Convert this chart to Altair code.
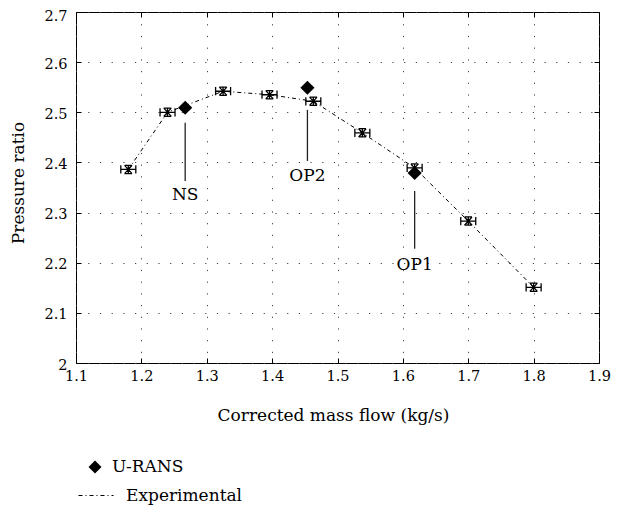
import altair as alt
import pandas as pd

# ---- data ----
exp_x = [1.180, 1.240, 1.325, 1.396, 1.463, 1.538, 1.618, 1.700, 1.800]
exp_y = [2.386, 2.500, 2.542, 2.535, 2.522, 2.459, 2.389, 2.283, 2.151]
urans_x = [1.267, 1.454, 1.618]
urans_y = [2.509, 2.549, 2.379]
ann_labels = ["NS", "OP2", "OP1"]
ann_x = [1.267, 1.454, 1.618]
ann_top = [2.479, 2.505, 2.343]
ann_bottom = [2.363, 2.403, 2.228]
ann_text_y = [2.336, 2.373, 2.196]
x_ticks = [1.1, 1.2, 1.3, 1.4, 1.5, 1.6, 1.7, 1.8, 1.9]
y_ticks = [2.0, 2.1, 2.2, 2.3, 2.4, 2.5, 2.6, 2.7]

exp_df = pd.DataFrame({"x": exp_x, "y": exp_y, "exp": "Experimental"})
urans_df = pd.DataFrame({"x": urans_x, "y": urans_y, "model": "U-RANS"})
ann_df = pd.DataFrame({"x": ann_x, "top": ann_top, "bottom": ann_bottom,
                       "ty": ann_text_y, "label": ann_labels})

FONT = "DejaVu Serif"
X_TITLE = "Corrected mass flow (kg/s)"
Y_TITLE = "Pressure ratio"

xscale = alt.Scale(domain=[1.1, 1.9], nice=False, zero=False)
yscale = alt.Scale(domain=[2.0, 2.7], nice=False, zero=False)

common_axis = dict(
    grid=True, gridColor="#444444", gridDash=[1.2, 10.5], gridWidth=1, gridOpacity=1,
    ticks=True, tickSize=5, tickColor="black", tickWidth=1, offset=-5, domain=False,
    labelFont=FONT, labelFontSize=14.5, labelColor="black", labelFlush=False,
    labelOverlap=False, format="~g",
    titleFont=FONT, titleFontSize=17, titleFontWeight="normal", titleColor="black",
    titleAlign="center", titleBaseline="middle",
)
xaxis = alt.Axis(values=x_ticks, labelPadding=6, titleX=257, titleY=57, **common_axis)
yaxis = alt.Axis(values=y_ticks, labelPadding=9,
                 labelOffset=alt.condition("datum.value >= 2.69", alt.value(4), alt.value(2)),
                 titleX=-62.5, titleY=170.5, titleAngle=270, **common_axis)


def X(field):
    return alt.X(field, type="quantitative", scale=xscale, axis=xaxis, title=X_TITLE)


def Y(field):
    return alt.Y(field, type="quantitative", scale=yscale, axis=yaxis, title=Y_TITLE)


line = alt.Chart(exp_df).mark_line(color="black", strokeWidth=1).encode(
    x=X("x"), y=Y("y"),
    strokeDash=alt.StrokeDash(
        "exp:N",
        scale=alt.Scale(domain=["Experimental"], range=[[4, 3, 1, 3]]),
        legend=alt.Legend(orient="none", legendX=2, legendY=465.5, title=None,
                          padding=0, symbolType="stroke", symbolSize=1225,
                          symbolStrokeColor="black", symbolStrokeWidth=1,
                          labelFont=FONT, labelFontSize=17, labelColor="black",
                          labelOffset=12),
    ),
)

marker_path = ("M-1,-0.55L-1,0.55M1,-0.55L1,0.55M-1,0L1,0"
               "M-0.5,-0.55L0.5,-0.55M-0.5,0.55L0.5,0.55"
               "M-0.5,-0.55L0.5,0.55M0.5,-0.55L-0.5,0.55M0,-0.6L0,0.6")
markers = alt.Chart(exp_df).mark_point(
    shape=marker_path, size=225, filled=False, color="black", strokeWidth=1.3, opacity=1
).encode(x=X("x"), y=Y("y"))

diamonds = alt.Chart(urans_df).mark_point(
    filled=True, size=200, color="black", opacity=1
).encode(
    x=X("x"), y=Y("y"),
    shape=alt.Shape(
        "model:N",
        scale=alt.Scale(domain=["U-RANS"], range=["diamond"]),
        legend=alt.Legend(orient="none", legendX=10.5, legendY=446.5, title=None,
                          padding=0, symbolSize=170, symbolFillColor="black",
                          symbolStrokeColor="black", labelFont=FONT, labelFontSize=17,
                          labelColor="black", labelOffset=8.5),
    ),
)

rules = alt.Chart(ann_df).mark_rule(color="#222222", strokeWidth=1.3).encode(
    x=X("x"), y=Y("top"), y2="bottom"
)

texts = alt.Chart(ann_df).mark_text(
    font=FONT, fontSize=17, color="black", baseline="middle", align="center"
).encode(x=X("x"), y=Y("ty"), text="label:N")

main = alt.layer(line, markers, diamonds, rules, texts)

tick_axis = dict(labels=False, grid=False, domain=False, ticks=True, tickSize=5,
                 tickColor="black", tickWidth=1, offset=-5)
frame_ticks = alt.Chart(exp_df).mark_point(opacity=0).encode(
    x=alt.X("x:Q", scale=xscale, title=None,
            axis=alt.Axis(orient="top", values=x_ticks, **tick_axis)),
    y=alt.Y("y:Q", scale=yscale, title=None,
            axis=alt.Axis(orient="right", values=y_ticks, **tick_axis)),
)

chart = alt.layer(main, frame_ticks).resolve_scale(
    x="independent", y="independent"
).properties(
    width=523, height=351,
    autosize=alt.AutoSizeParams(type="none"),
    padding={"left": 68, "top": 4, "right": 12, "bottom": 144},
    background="white",
).configure_view(stroke="black", strokeWidth=1)

chart.save("out.html", embed_options={"renderer": "svg", "actions": False})
